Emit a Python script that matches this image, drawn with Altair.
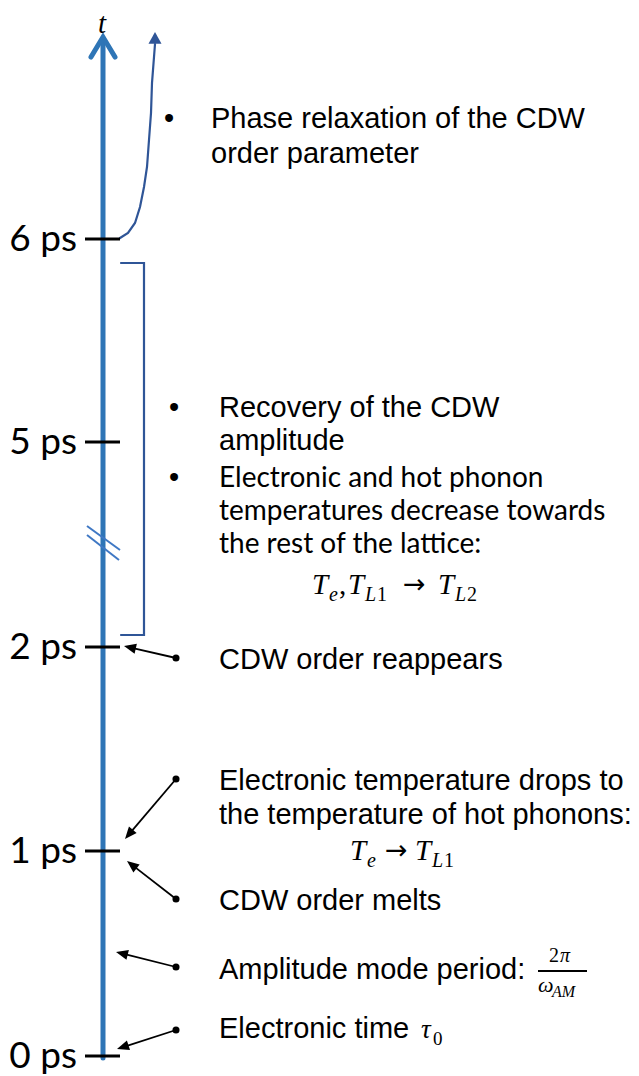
import altair as alt
import pandas as pd
import numpy as np

# ---------------- data (diagram units: x and y in page pixels) ----------------
TICK_LABELS = ["0 ps", "1 ps", "2 ps", "5 ps", "6 ps"]
TICK_Y = [1056, 851, 647, 442, 239]

AXIS_X = [103, 103]
AXIS_Y = [1058, 40]
AXIS_HEAD_X = [91, 103, 115]
AXIS_HEAD_Y = [57, 37, 57]

CURVE_X = [120, 128, 135, 140, 144, 147, 149, 151, 152, 154, 155]
CURVE_Y = [238, 233, 223, 207, 187, 167, 140, 113, 83, 57, 44]
CURVE_TIP_X = [155]
CURVE_TIP_Y = [32]

BRACKET_X = [121, 144, 144, 121]
BRACKET_Y = [263, 263, 635, 635]

BREAK_X1 = [87, 87]
BREAK_Y1 = [526, 535]
BREAK_X2 = [120, 119]
BREAK_Y2 = [550, 560]

ARROW_FROM_X = [176, 176, 176, 176, 176]
ARROW_FROM_Y = [658, 779, 899, 967, 1030]
ARROW_TO_X = [124, 125, 127, 116, 117]
ARROW_TO_Y = [646, 839, 861, 952, 1049]

# Arial-like annotation lines
SANS_TEXT = ["Phase relaxation of the CDW", "order parameter",
             "Recovery of the CDW", "amplitude",
             "CDW order reappears",
             "Electronic temperature drops to", "the temperature of hot phonons:",
             "CDW order melts",
             "Amplitude mode period:",
             "Electronic time"]
SANS_X = [211, 211, 219, 219, 219, 219, 219, 219, 219, 219]
SANS_Y = [128, 163, 417, 450, 669, 790, 824, 910, 979, 1038]

# Calibri-like lines
CAL_TEXT = ["Electronic and hot phonon", "temperatures decrease towards", "the rest of the lattice:"]
CAL_X = [219, 219, 219]
CAL_Y = [487, 520, 553]

BULLET_X = [169, 174, 174]
BULLET_Y = [128, 417, 487]

# math runs: text, x, baseline, size, italic
MATH_TEXT = ["T", "e", ",", "T", "L", "1", "T", "L", "2",
             "T", "e", "T", "L", "1",
             "2", "π", "ω", "AM",
             "τ", "0"]
MATH_X = [312, 329, 339, 348, 365, 377, 438, 455, 467,
          350, 367, 415, 432, 444,
          549, 560, 538, 552,
          421, 433]
MATH_Y = [594, 601, 594, 594, 601, 601, 594, 601, 601,
          860, 867, 860, 867, 867,
          962, 962, 992, 997,
          1038, 1045]
MATH_SIZE = [29, 20, 29, 29, 20, 20, 29, 20, 20,
             29, 20, 29, 20, 20,
             20, 20, 22, 16,
             27, 19]
MATH_ITALIC = [1, 1, 0, 1, 1, 0, 1, 1, 0,
               1, 1, 1, 1, 0,
               0, 1, 1, 1,
               1, 0]
# "→" symbols of the two formulas
MATH_ARROW_X = [403, 385]
MATH_ARROW_Y = [593, 859]

FRACTION_X = [538, 587]
FRACTION_Y = [971, 971]

T_LABEL = ["t"]
T_X = [102]
T_Y = [33]

# ---------------- styles ----------------
AXIS_BLUE = "#2E75B6"
DARK_BLUE = "#2F5597"
BREAK_BLUE = "#3F78C4"

X_DOM = [8, 631]
Y_DOM = [8, 1068]
W, H = 623, 1060


def X(f="x"):
    return alt.X(f + ":Q", scale=alt.Scale(domain=X_DOM, nice=False, zero=False), axis=None)


def Y(f="y"):
    return alt.Y(f + ":Q", scale=alt.Scale(domain=Y_DOM, nice=False, zero=False, reverse=True), axis=None)


# ---------------- polylines ----------------
rows = []
def add_poly(name, xs, ys, color, width):
    for i, (a, b) in enumerate(zip(xs, ys)):
        rows.append(dict(x=a, y=b, grp=name, order=i, color=color, width=width))

add_poly("axis", AXIS_X, AXIS_Y, AXIS_BLUE, 5)
add_poly("axishead", AXIS_HEAD_X, AXIS_HEAD_Y, AXIS_BLUE, 5)
add_poly("curve", CURVE_X, CURVE_Y, DARK_BLUE, 2.2)
add_poly("bracket", BRACKET_X, BRACKET_Y, DARK_BLUE, 2.2)
poly_df = pd.DataFrame(rows)

polys = alt.Chart(poly_df).mark_line(strokeCap="round", strokeJoin="miter").encode(
    x=X(), y=Y(), detail="grp:N", order="order:Q",
    color=alt.Color("color:N", scale=None),
    strokeWidth=alt.StrokeWidth("width:Q", scale=None),
)

# ---------------- rules ----------------
rrows = []
for ty in TICK_Y:
    rrows.append(dict(x=85, y=ty, x2=120, y2=ty, color="#000000", width=3))
for a, b, c, d in zip(BREAK_X1, BREAK_Y1, BREAK_X2, BREAK_Y2):
    rrows.append(dict(x=a, y=b, x2=c, y2=d, color=BREAK_BLUE, width=2))
rrows.append(dict(x=FRACTION_X[0], y=FRACTION_Y[0], x2=FRACTION_X[1], y2=FRACTION_Y[1],
                  color="#000000", width=2))

heads = []
for fx, fy, tx, ty in zip(ARROW_FROM_X, ARROW_FROM_Y, ARROW_TO_X, ARROW_TO_Y):
    dx, dy = tx - fx, ty - fy
    L = np.hypot(dx, dy)
    ux, uy = dx / L, dy / L
    rrows.append(dict(x=fx, y=fy, x2=tx - ux * 8, y2=ty - uy * 8, color="#000000", width=1.8))
    ang = float(np.degrees(np.arctan2(dx, -dy)) % 360)
    heads.append(dict(x=tx, y=ty, angle=ang))
rule_df = pd.DataFrame(rrows)
rules = alt.Chart(rule_df).mark_rule(strokeCap="butt").encode(
    x=X(), y=Y(), x2="x2:Q", y2="y2:Q",
    color=alt.Color("color:N", scale=None),
    strokeWidth=alt.StrokeWidth("width:Q", scale=None),
)

HEAD_PATH = "M0,0L-0.42,1L0.42,1Z"
head_df = pd.DataFrame(heads)
arrow_heads = alt.Chart(head_df).mark_point(
    shape=HEAD_PATH, filled=True, opacity=1, size=580, color="#000000", strokeWidth=0
).encode(x=X(), y=Y(), angle=alt.Angle("angle:Q", scale=None))

cdx = CURVE_TIP_X[0] - CURVE_X[-1]
cdy = CURVE_TIP_Y[0] - CURVE_Y[-1]
curve_head_df = pd.DataFrame(dict(x=CURVE_TIP_X, y=CURVE_TIP_Y,
                                  angle=[float(np.degrees(np.arctan2(cdx, -cdy)) % 360)]))
curve_head = alt.Chart(curve_head_df).mark_point(
    shape="M0,0L-0.55,1L0.55,1Z", filled=True, opacity=1, size=560, color=DARK_BLUE, strokeWidth=0
).encode(x=X(), y=Y(), angle=alt.Angle("angle:Q", scale=None))

dot_df = pd.DataFrame(dict(x=ARROW_FROM_X, y=ARROW_FROM_Y))
dots = alt.Chart(dot_df).mark_circle(size=50, color="#000000", opacity=1).encode(x=X(), y=Y())

# ---------------- texts ----------------
sans_df = pd.DataFrame(dict(x=SANS_X, y=SANS_Y, t=SANS_TEXT))
sans = alt.Chart(sans_df).mark_text(
    align="left", baseline="alphabetic", font="Liberation Sans", fontSize=29, color="#000000"
).encode(x=X(), y=Y(), text="t:N")

cal_df = pd.DataFrame(dict(x=CAL_X, y=CAL_Y, t=CAL_TEXT))
cal = alt.Chart(cal_df).mark_text(
    align="left", baseline="alphabetic", font="Lato", fontSize=28, color="#000000"
).encode(x=X(), y=Y(), text="t:N")

bul_df = pd.DataFrame(dict(x=BULLET_X, y=BULLET_Y, t=["•"] * len(BULLET_X)))
bullets = alt.Chart(bul_df).mark_text(
    align="center", baseline="alphabetic", font="Liberation Sans", fontSize=29, color="#000000"
).encode(x=X(), y=Y(), text="t:N")

tick_df = pd.DataFrame(dict(x=[77] * len(TICK_Y), y=[v + 12 for v in TICK_Y], t=TICK_LABELS))
tick_text = alt.Chart(tick_df).mark_text(
    align="right", baseline="alphabetic", font="Lato", fontSize=37, color="#000000"
).encode(x=X(), y=Y(), text="t:N")

math_df = pd.DataFrame(dict(x=MATH_X, y=MATH_Y, t=MATH_TEXT, s=MATH_SIZE, it=MATH_ITALIC))
math_it = alt.Chart(math_df[math_df.it == 1]).mark_text(
    align="left", baseline="alphabetic", font="Liberation Serif", fontStyle="italic", color="#000000"
).encode(x=X(), y=Y(), text="t:N", size=alt.Size("s:Q", scale=None))
math_up = alt.Chart(math_df[math_df.it == 0]).mark_text(
    align="left", baseline="alphabetic", font="Liberation Serif", color="#000000"
).encode(x=X(), y=Y(), text="t:N", size=alt.Size("s:Q", scale=None))

marrow_df = pd.DataFrame(dict(x=MATH_ARROW_X, y=MATH_ARROW_Y, t=["→"] * len(MATH_ARROW_X)))
math_arrows = alt.Chart(marrow_df).mark_text(
    align="left", baseline="alphabetic", font="DejaVu Sans", fontSize=27, color="#000000"
).encode(x=X(), y=Y(), text="t:N")

t_df = pd.DataFrame(dict(x=T_X, y=T_Y, t=T_LABEL))
t_text = alt.Chart(t_df).mark_text(
    align="center", baseline="alphabetic", font="Liberation Serif", fontStyle="italic",
    fontSize=29, color="#000000"
).encode(x=X(), y=Y(), text="t:N")

chart = alt.layer(
    polys, rules, arrow_heads, curve_head, dots,
    sans, cal, bullets, tick_text, math_it, math_up, math_arrows, t_text
).properties(
    width=W, height=H, padding={"top": 0, "left": 0, "right": 0, "bottom": 8}, autosize="none"
).configure_view(stroke=None)

chart.save("out.html", embed_options={"renderer": "svg", "actions": False})
